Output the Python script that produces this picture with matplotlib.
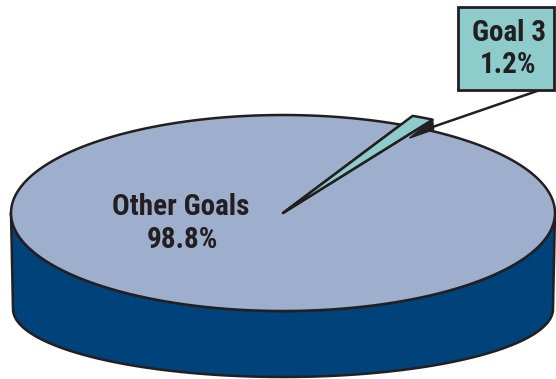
import numpy as np
import matplotlib.pyplot as plt
from matplotlib.patches import Polygon, Rectangle

# ---- data ----
labels = ['Other Goals', 'Goal 3']
shares = [98.8, 1.2]
colors_top = ['#9dafcd', '#8dcccb']
color_side = '#00427a'
color_edge = '#231f20'

# ---- pie geometry (pixel space) ----
cx, cy = 283, 213          # centre of top face
a, b = 272, 98             # top face semi axes
cy_bot, a_bot, b_bot = 309, 270, 68   # bottom rim (flattened for perspective)
start = 60.0               # angle where Goal 3 starts
font = ['Roboto Condensed', 'DejaVu Sans']
fsize = 21


def pt(theta, r=1.0, x0=cx, y0=cy, ax_=a, by=b):
    t = np.radians(theta)
    return x0 + r * ax_ * np.cos(t), y0 - r * by * np.sin(t)


def arc(t0, t1, r=1.0, n=200, **kw):
    ts = np.linspace(t0, t1, n)
    xs, ys = pt(ts, r, **kw)
    return np.column_stack([xs, ys])


fig = plt.figure(figsize=(5.56, 3.79), dpi=100)
ax = fig.add_axes((0, 0, 1, 1))
ax.set_xlim(0, 556)
ax.set_ylim(379, 0)
ax.axis('off')

# side wall of the cylinder
front = arc(180, 360)
back = arc(360, 180, x0=cx, y0=cy_bot, ax_=a_bot, by=b_bot)
side = np.vstack([front, back])
ax.add_patch(Polygon(side, closed=True, fc=color_side, ec=color_edge, lw=1.8,
                     joinstyle='round', zorder=1))

# slice angles from the shares
sweep = [s / sum(shares) * 360 for s in shares]
g3_t0, g3_t1 = start, start + sweep[1]
oth_t0, oth_t1 = g3_t1, g3_t1 + sweep[0]

# top face: other goals
verts = np.vstack([[cx, cy], arc(oth_t0, oth_t1)])
ax.add_patch(Polygon(verts, closed=True, fc=colors_top[0], ec=color_edge,
                     lw=1.8, joinstyle='round', zorder=2))

# goal 3 slice, pulled slightly out past the rim
r3 = 1.1
tip = pt(g3_t0, r3)
wall = np.array([tip, (tip[0] + 1, tip[1] + 10), pt(g3_t0, 0.93)])
wall[2, 1] += 4
ax.add_patch(Polygon(wall, closed=True, fc=color_edge, ec=color_edge, lw=1,
                     zorder=3))
verts = np.vstack([[cx, cy], arc(g3_t0, g3_t1, r=r3, n=20)])
ax.add_patch(Polygon(verts, closed=True, fc=colors_top[1], ec=color_edge,
                     lw=1.8, joinstyle='round', zorder=4))

# label for the big slice
ax.text(181, 207, labels[0], ha='center', va='center', fontsize=fsize,
        fontweight='bold', family=font, color=color_edge, zorder=5)
ax.text(182, 240, f'{shares[0]}%', ha='center', va='center', fontsize=fsize,
        fontweight='bold', family=font, color=color_edge, zorder=5)

# callout box for goal 3
ax.plot([tip[0] + 1, 540], [tip[1] + 7, 90], color=color_edge, lw=1.8,
        solid_capstyle='butt', zorder=3)
ax.add_patch(Rectangle((458, 7), 96, 83, fc=colors_top[1], ec=color_edge,
                       lw=2, zorder=5))
ax.text(509, 33, labels[1], ha='center', va='center', fontsize=fsize,
        fontweight='bold', family=font, color=color_edge, zorder=6)
ax.text(508, 65, f'{shares[1]}%', ha='center', va='center', fontsize=fsize,
        fontweight='bold', family=font, color=color_edge, zorder=6)

fig.savefig('out.png', dpi=100, facecolor='white')
